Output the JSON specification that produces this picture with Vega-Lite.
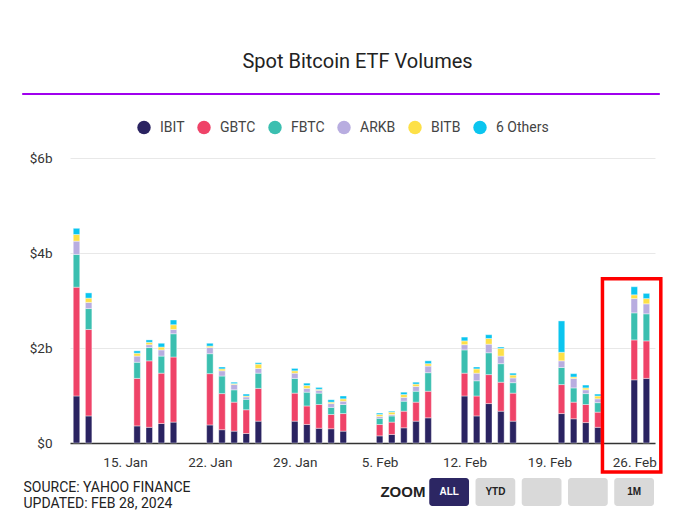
{
  "$schema": "https://vega.github.io/schema/vega-lite/v6.json",
  "background": "white",
  "padding": {"left": 21, "top": 51, "right": 10, "bottom": 5},
  "config": {
    "view": {"stroke": null},
    "font": "Roboto",
    "axis": {"labelFont": "Roboto", "titleFont": "Roboto"},
    "legend": {"labelFont": "Roboto"},
    "title": {"font": "Roboto"}
  },
  "spacing": 4,
  "resolve": {"scale": {"color": "independent"}, "legend": {"color": "independent"}},
  "vconcat": [
    {
      "spacing": 21,
      "resolve": {"scale": {"color": "independent"}, "legend": {"color": "independent"}},
      "vconcat": [
        {
          "width": 637,
          "height": 1,
          "view": {"stroke": "#a000ee", "strokeWidth": 1, "fill": "#a000ee"},
          "title": {"text": "Spot Bitcoin ETF Volumes", "fontSize": 20, "fontWeight": "normal", "color": "#222", "anchor": "middle", "dx": 17, "offset": 16},
          "data": {"values": [{"t": ""}]},
          "mark": "text",
          "encoding": {"text": {"field": "t"}}
        },
        {
          "width": 634,
          "height": 285,
          "layer": [
            {
              "data": {"values": [
                {"d":"2024-01-11","f":"IBIT","v":0.99},{"d":"2024-01-11","f":"GBTC","v":2.29},{"d":"2024-01-11","f":"FBTC","v":0.69},{"d":"2024-01-11","f":"ARKB","v":0.28},{"d":"2024-01-11","f":"BITB","v":0.14},{"d":"2024-01-11","f":"6 Others","v":0.13},
                {"d":"2024-01-12","f":"IBIT","v":0.57},{"d":"2024-01-12","f":"GBTC","v":1.82},{"d":"2024-01-12","f":"FBTC","v":0.44},{"d":"2024-01-12","f":"ARKB","v":0.13},{"d":"2024-01-12","f":"BITB","v":0.09},{"d":"2024-01-12","f":"6 Others","v":0.11},
                {"d":"2024-01-16","f":"IBIT","v":0.36},{"d":"2024-01-16","f":"GBTC","v":1.00},{"d":"2024-01-16","f":"FBTC","v":0.34},{"d":"2024-01-16","f":"ARKB","v":0.13},{"d":"2024-01-16","f":"BITB","v":0.06},{"d":"2024-01-16","f":"6 Others","v":0.05},
                {"d":"2024-01-17","f":"IBIT","v":0.33},{"d":"2024-01-17","f":"GBTC","v":1.40},{"d":"2024-01-17","f":"FBTC","v":0.28},{"d":"2024-01-17","f":"ARKB","v":0.06},{"d":"2024-01-17","f":"BITB","v":0.05},{"d":"2024-01-17","f":"6 Others","v":0.05},
                {"d":"2024-01-18","f":"IBIT","v":0.41},{"d":"2024-01-18","f":"GBTC","v":1.06},{"d":"2024-01-18","f":"FBTC","v":0.36},{"d":"2024-01-18","f":"ARKB","v":0.13},{"d":"2024-01-18","f":"BITB","v":0.06},{"d":"2024-01-18","f":"6 Others","v":0.08},
                {"d":"2024-01-19","f":"IBIT","v":0.44},{"d":"2024-01-19","f":"GBTC","v":1.37},{"d":"2024-01-19","f":"FBTC","v":0.49},{"d":"2024-01-19","f":"ARKB","v":0.09},{"d":"2024-01-19","f":"BITB","v":0.10},{"d":"2024-01-19","f":"6 Others","v":0.10},
                {"d":"2024-01-22","f":"IBIT","v":0.38},{"d":"2024-01-22","f":"GBTC","v":1.08},{"d":"2024-01-22","f":"FBTC","v":0.42},{"d":"2024-01-22","f":"ARKB","v":0.13},{"d":"2024-01-22","f":"BITB","v":0.03},{"d":"2024-01-22","f":"6 Others","v":0.06},
                {"d":"2024-01-23","f":"IBIT","v":0.28},{"d":"2024-01-23","f":"GBTC","v":0.76},{"d":"2024-01-23","f":"FBTC","v":0.37},{"d":"2024-01-23","f":"ARKB","v":0.11},{"d":"2024-01-23","f":"BITB","v":0.04},{"d":"2024-01-23","f":"6 Others","v":0.04},
                {"d":"2024-01-24","f":"IBIT","v":0.25},{"d":"2024-01-24","f":"GBTC","v":0.61},{"d":"2024-01-24","f":"FBTC","v":0.26},{"d":"2024-01-24","f":"ARKB","v":0.11},{"d":"2024-01-24","f":"BITB","v":0.02},{"d":"2024-01-24","f":"6 Others","v":0.03},
                {"d":"2024-01-25","f":"IBIT","v":0.20},{"d":"2024-01-25","f":"GBTC","v":0.50},{"d":"2024-01-25","f":"FBTC","v":0.22},{"d":"2024-01-25","f":"ARKB","v":0.05},{"d":"2024-01-25","f":"BITB","v":0.02},{"d":"2024-01-25","f":"6 Others","v":0.04},
                {"d":"2024-01-26","f":"IBIT","v":0.46},{"d":"2024-01-26","f":"GBTC","v":0.69},{"d":"2024-01-26","f":"FBTC","v":0.32},{"d":"2024-01-26","f":"ARKB","v":0.10},{"d":"2024-01-26","f":"BITB","v":0.09},{"d":"2024-01-26","f":"6 Others","v":0.03},
                {"d":"2024-01-29","f":"IBIT","v":0.46},{"d":"2024-01-29","f":"GBTC","v":0.59},{"d":"2024-01-29","f":"FBTC","v":0.31},{"d":"2024-01-29","f":"ARKB","v":0.11},{"d":"2024-01-29","f":"BITB","v":0.05},{"d":"2024-01-29","f":"6 Others","v":0.05},
                {"d":"2024-01-30","f":"IBIT","v":0.39},{"d":"2024-01-30","f":"GBTC","v":0.39},{"d":"2024-01-30","f":"FBTC","v":0.29},{"d":"2024-01-30","f":"ARKB","v":0.08},{"d":"2024-01-30","f":"BITB","v":0.06},{"d":"2024-01-30","f":"6 Others","v":0.05},
                {"d":"2024-01-31","f":"IBIT","v":0.31},{"d":"2024-01-31","f":"GBTC","v":0.50},{"d":"2024-01-31","f":"FBTC","v":0.24},{"d":"2024-01-31","f":"ARKB","v":0.06},{"d":"2024-01-31","f":"BITB","v":0.02},{"d":"2024-01-31","f":"6 Others","v":0.04},
                {"d":"2024-02-01","f":"IBIT","v":0.30},{"d":"2024-02-01","f":"GBTC","v":0.30},{"d":"2024-02-01","f":"FBTC","v":0.15},{"d":"2024-02-01","f":"ARKB","v":0.08},{"d":"2024-02-01","f":"BITB","v":0.03},{"d":"2024-02-01","f":"6 Others","v":0.05},
                {"d":"2024-02-02","f":"IBIT","v":0.25},{"d":"2024-02-02","f":"GBTC","v":0.37},{"d":"2024-02-02","f":"FBTC","v":0.19},{"d":"2024-02-02","f":"ARKB","v":0.07},{"d":"2024-02-02","f":"BITB","v":0.05},{"d":"2024-02-02","f":"6 Others","v":0.06},
                {"d":"2024-02-05","f":"IBIT","v":0.15},{"d":"2024-02-05","f":"GBTC","v":0.24},{"d":"2024-02-05","f":"FBTC","v":0.13},{"d":"2024-02-05","f":"ARKB","v":0.04},{"d":"2024-02-05","f":"BITB","v":0.04},{"d":"2024-02-05","f":"6 Others","v":0.03},
                {"d":"2024-02-06","f":"IBIT","v":0.18},{"d":"2024-02-06","f":"GBTC","v":0.26},{"d":"2024-02-06","f":"FBTC","v":0.13},{"d":"2024-02-06","f":"ARKB","v":0.03},{"d":"2024-02-06","f":"BITB","v":0.05},{"d":"2024-02-06","f":"6 Others","v":0.02},
                {"d":"2024-02-07","f":"IBIT","v":0.32},{"d":"2024-02-07","f":"GBTC","v":0.35},{"d":"2024-02-07","f":"FBTC","v":0.21},{"d":"2024-02-07","f":"ARKB","v":0.08},{"d":"2024-02-07","f":"BITB","v":0.06},{"d":"2024-02-07","f":"6 Others","v":0.05},
                {"d":"2024-02-08","f":"IBIT","v":0.46},{"d":"2024-02-08","f":"GBTC","v":0.40},{"d":"2024-02-08","f":"FBTC","v":0.23},{"d":"2024-02-08","f":"ARKB","v":0.10},{"d":"2024-02-08","f":"BITB","v":0.05},{"d":"2024-02-08","f":"6 Others","v":0.04},
                {"d":"2024-02-09","f":"IBIT","v":0.53},{"d":"2024-02-09","f":"GBTC","v":0.56},{"d":"2024-02-09","f":"FBTC","v":0.39},{"d":"2024-02-09","f":"ARKB","v":0.14},{"d":"2024-02-09","f":"BITB","v":0.05},{"d":"2024-02-09","f":"6 Others","v":0.06},
                {"d":"2024-02-12","f":"IBIT","v":0.99},{"d":"2024-02-12","f":"GBTC","v":0.48},{"d":"2024-02-12","f":"FBTC","v":0.49},{"d":"2024-02-12","f":"ARKB","v":0.11},{"d":"2024-02-12","f":"BITB","v":0.08},{"d":"2024-02-12","f":"6 Others","v":0.08},
                {"d":"2024-02-13","f":"IBIT","v":0.57},{"d":"2024-02-13","f":"GBTC","v":0.42},{"d":"2024-02-13","f":"FBTC","v":0.32},{"d":"2024-02-13","f":"ARKB","v":0.16},{"d":"2024-02-13","f":"BITB","v":0.09},{"d":"2024-02-13","f":"6 Others","v":0.04},
                {"d":"2024-02-14","f":"IBIT","v":0.83},{"d":"2024-02-14","f":"GBTC","v":0.61},{"d":"2024-02-14","f":"FBTC","v":0.46},{"d":"2024-02-14","f":"ARKB","v":0.18},{"d":"2024-02-14","f":"BITB","v":0.12},{"d":"2024-02-14","f":"6 Others","v":0.08},
                {"d":"2024-02-15","f":"IBIT","v":0.67},{"d":"2024-02-15","f":"GBTC","v":0.61},{"d":"2024-02-15","f":"FBTC","v":0.39},{"d":"2024-02-15","f":"ARKB","v":0.16},{"d":"2024-02-15","f":"BITB","v":0.16},{"d":"2024-02-15","f":"6 Others","v":0.03},
                {"d":"2024-02-16","f":"IBIT","v":0.46},{"d":"2024-02-16","f":"GBTC","v":0.59},{"d":"2024-02-16","f":"FBTC","v":0.22},{"d":"2024-02-16","f":"ARKB","v":0.10},{"d":"2024-02-16","f":"BITB","v":0.06},{"d":"2024-02-16","f":"6 Others","v":0.04},
                {"d":"2024-02-20","f":"IBIT","v":0.62},{"d":"2024-02-20","f":"GBTC","v":0.61},{"d":"2024-02-20","f":"FBTC","v":0.36},{"d":"2024-02-20","f":"ARKB","v":0.14},{"d":"2024-02-20","f":"BITB","v":0.18},{"d":"2024-02-20","f":"6 Others","v":0.66},
                {"d":"2024-02-21","f":"IBIT","v":0.51},{"d":"2024-02-21","f":"GBTC","v":0.35},{"d":"2024-02-21","f":"FBTC","v":0.30},{"d":"2024-02-21","f":"ARKB","v":0.20},{"d":"2024-02-21","f":"BITB","v":0.03},{"d":"2024-02-21","f":"6 Others","v":0.07},
                {"d":"2024-02-22","f":"IBIT","v":0.43},{"d":"2024-02-22","f":"GBTC","v":0.38},{"d":"2024-02-22","f":"FBTC","v":0.23},{"d":"2024-02-22","f":"ARKB","v":0.08},{"d":"2024-02-22","f":"BITB","v":0.04},{"d":"2024-02-22","f":"6 Others","v":0.06},
                {"d":"2024-02-23","f":"IBIT","v":0.33},{"d":"2024-02-23","f":"GBTC","v":0.32},{"d":"2024-02-23","f":"FBTC","v":0.20},{"d":"2024-02-23","f":"ARKB","v":0.08},{"d":"2024-02-23","f":"BITB","v":0.06},{"d":"2024-02-23","f":"6 Others","v":0.04},
                {"d":"2024-02-26","f":"IBIT","v":1.33},{"d":"2024-02-26","f":"GBTC","v":0.84},{"d":"2024-02-26","f":"FBTC","v":0.57},{"d":"2024-02-26","f":"ARKB","v":0.30},{"d":"2024-02-26","f":"BITB","v":0.08},{"d":"2024-02-26","f":"6 Others","v":0.17},
                {"d":"2024-02-27","f":"IBIT","v":1.36},{"d":"2024-02-27","f":"GBTC","v":0.79},{"d":"2024-02-27","f":"FBTC","v":0.57},{"d":"2024-02-27","f":"ARKB","v":0.21},{"d":"2024-02-27","f":"BITB","v":0.11},{"d":"2024-02-27","f":"6 Others","v":0.11}
              ]},
              "transform": [
                {"calculate": "indexof(['IBIT','GBTC','FBTC','ARKB','BITB','6 Others'], datum.f)", "as": "k"}
              ],
              "mark": {"type": "bar", "width": 6.5, "stroke": "#ffffff", "strokeWidth": 0.8, "strokeOpacity": 0.5},
              "encoding": {
                "x": {
                  "field": "d", "type": "temporal",
                  "scale": {"type": "utc", "nice": false, "padding": 0, "range": [48, 633], "domain": [
                    {"year": 2024, "month": 1, "date": 10, "hours": 11, "minutes": 8, "utc": true},
                    {"year": 2024, "month": 2, "date": 27, "hours": 17, "utc": true}
                  ]},
                  "axis": {
                    "values": [
                      {"year": 2024, "month": 1, "date": 15, "utc": true},
                      {"year": 2024, "month": 1, "date": 22, "utc": true},
                      {"year": 2024, "month": 1, "date": 29, "utc": true},
                      {"year": 2024, "month": 2, "date": 5, "utc": true},
                      {"year": 2024, "month": 2, "date": 12, "utc": true},
                      {"year": 2024, "month": 2, "date": 19, "utc": true},
                      {"year": 2024, "month": 2, "date": 26, "utc": true}
                    ],
                    "labelExpr": "utcFormat(datum.value, '%-d. %b')",
                    "title": null, "grid": false, "ticks": false,
                    "domainColor": "#333", "domainWidth": 1.5,
                    "labelFontSize": 13.5, "labelColor": "#333", "labelPadding": 12, "labelFlush": false
                  }
                },
                "y": {
                  "field": "v", "type": "quantitative", "stack": "zero",
                  "scale": {"domain": [0, 6]},
                  "axis": {
                    "values": [0, 2, 4, 6],
                    "labelExpr": "datum.value == 0 ? '$0' : '$' + datum.value + 'b'",
                    "title": null, "domain": false, "ticks": false, "offset": -48,
                    "gridColor": "#e8e8e8",
                    "labelFontSize": 13.5, "labelColor": "#333", "labelPadding": 18
                  }
                },
                "color": {
                  "field": "f", "type": "nominal",
                  "scale": {
                    "domain": ["IBIT", "GBTC", "FBTC", "ARKB", "BITB", "6 Others"],
                    "range": ["#2a2361", "#ef4368", "#3bbfb0", "#b8ade0", "#fde047", "#0bc5ef"]
                  },
                  "legend": {
                    "orient": "none", "legendX": 115, "legendY": -37.5, "direction": "horizontal",
                    "title": null, "symbolType": "circle", "symbolSize": 180, "symbolStrokeWidth": 0,
                    "labelFontSize": 14, "labelColor": "#444", "columnPadding": 12, "labelOffset": 9
                  }
                },
                "order": {"field": "k", "type": "quantitative"}
              }
            },
            {
              "data": {"values": [{}]},
              "mark": {"type": "rect", "fillOpacity": 0, "stroke": "#ff0000", "strokeWidth": 3.5},
              "encoding": {
                "x": {"datum": {"year": 2024, "month": 2, "date": 23, "hours": 9, "utc": true}, "type": "temporal"},
                "x2": {"datum": {"year": 2024, "month": 2, "date": 28, "hours": 4, "minutes": 30, "utc": true}},
                "y": {"datum": 3.46, "type": "quantitative"},
                "y2": {"datum": -0.61}
              }
            }
          ]
        }
      ]
    },
    {
      "width": 634,
      "height": 28,
      "data": {"values": [
        {"b": "ZOOM", "label": "ZOOM", "kind": "title"},
        {"b": "ALL", "label": "ALL", "kind": "on"},
        {"b": "YTD", "label": "YTD", "kind": "off"},
        {"b": "3M", "label": "", "kind": "off"},
        {"b": "6M", "label": "", "kind": "off"},
        {"b": "1M", "label": "1M", "kind": "off"}
      ]},
      "encoding": {
        "x": {
          "field": "b", "type": "nominal", "sort": null,
          "scale": {"type": "band", "domain": ["ZOOM", "ALL", "YTD", "3M", "6M", "1M"], "range": [361, 632], "paddingInner": 0.14, "paddingOuter": 0},
          "axis": {
            "orient": "top", "labels": false, "ticks": false, "domain": false,
            "title": ["SOURCE: YAHOO FINANCE", "UPDATED: FEB 28, 2024"],
            "titleAnchor": "start", "titleAlign": "left", "titleBaseline": "top", "titleAngle": 0,
            "titleX": 1, "titleY": 2, "titleFontSize": 14, "titleFontWeight": "normal", "titleColor": "#222", "titleLineHeight": 16
          }
        }
      },
      "layer": [
        {
          "transform": [{"filter": "datum.kind != 'title'"}],
          "mark": {"type": "rect", "cornerRadius": 3},
          "encoding": {
            "color": {"condition": {"test": "datum.kind == 'on'", "value": "#2c2663"}, "value": "#d9d9d9"}
          }
        },
        {
          "mark": {"type": "text", "fontWeight": "bold", "font": "Liberation Sans"},
          "encoding": {
            "text": {"field": "label"},
            "color": {"condition": {"test": "datum.kind == 'on'", "value": "#ffffff"}, "value": "#222"},
            "size": {"condition": {"test": "datum.kind == 'title'", "value": 15}, "value": 10}
          }
        }
      ]
    }
  ]
}
